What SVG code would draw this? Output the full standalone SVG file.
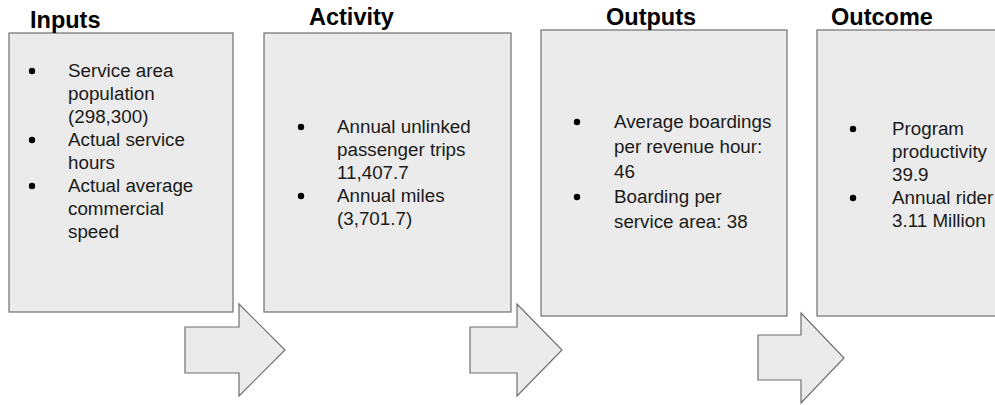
<svg xmlns="http://www.w3.org/2000/svg" width="995" height="405" viewBox="0 0 995 405">
<style>
.box{fill:#ebebeb;stroke:#6f6f6f;stroke-width:1.2}
.arrow{fill:#ebebeb;stroke:#6f6f6f;stroke-width:1.2;stroke-linejoin:miter}
.title{font-family:"Liberation Sans",Arial,Helvetica,sans-serif;font-weight:bold;font-size:23.5px;fill:#000}
.body{font-family:"Liberation Sans",Arial,Helvetica,sans-serif;font-size:18.8px;fill:#1a1a1a}
.dot{fill:#000}
</style>
<rect width="995" height="405" fill="#ffffff"/>
<g id="inputs">
<rect class="box" x="9" y="33" width="224" height="279"/>
<text class="title" x="30" y="28">Inputs</text>
<circle class="dot" cx="32" cy="71" r="3.2"/>
<circle class="dot" cx="32" cy="140" r="3.2"/>
<circle class="dot" cx="32" cy="186" r="3.2"/>
<text class="body" x="68" y="77">Service area</text>
<text class="body" x="68" y="100">population</text>
<text class="body" x="68" y="123">(298,300)</text>
<text class="body" x="68" y="146">Actual service</text>
<text class="body" x="68" y="169">hours</text>
<text class="body" x="68" y="192">Actual average</text>
<text class="body" x="68" y="215">commercial</text>
<text class="body" x="68" y="238">speed</text>
</g>
<g id="activity">
<rect class="box" x="264" y="33" width="247" height="279"/>
<text class="title" x="309" y="25">Activity</text>
<circle class="dot" cx="301" cy="127" r="3.2"/>
<circle class="dot" cx="301" cy="196" r="3.2"/>
<text class="body" x="337" y="133">Annual unlinked</text>
<text class="body" x="337" y="156">passenger trips</text>
<text class="body" x="337" y="179">11,407.7</text>
<text class="body" x="337" y="202">Annual miles</text>
<text class="body" x="337" y="225">(3,701.7)</text>
</g>
<g id="outputs">
<rect class="box" x="541" y="30" width="246" height="286"/>
<text class="title" x="606" y="25">Outputs</text>
<circle class="dot" cx="577" cy="122" r="3.2"/>
<circle class="dot" cx="577" cy="197" r="3.2"/>
<text class="body" x="614" y="128">Average boardings</text>
<text class="body" x="614" y="153">per revenue hour:</text>
<text class="body" x="614" y="178">46</text>
<text class="body" x="614" y="203">Boarding per</text>
<text class="body" x="614" y="228">service area: 38</text>
</g>
<g id="outcome">
<rect class="box" x="817" y="30" width="200" height="286"/>
<text class="title" x="831" y="25">Outcome</text>
<circle class="dot" cx="853" cy="129" r="3.2"/>
<circle class="dot" cx="853" cy="198" r="3.2"/>
<text class="body" x="892" y="135">Program</text>
<text class="body" x="892" y="158">productivity</text>
<text class="body" x="892" y="181">39.9</text>
<text class="body" x="892" y="204">Annual rider</text>
<text class="body" x="892" y="227">3.11 Million</text>
</g>
<g id="connectors">
<polygon class="arrow" points="185,327 239,327 239,304 285,350 239,396 239,373 185,373"/>
<polygon class="arrow" points="470,327 517,327 517,304 562,350 517,396 517,373 470,373"/>
<polygon class="arrow" points="758,335 801,335 801,313 844,358 801,403 801,380 758,380"/>
</g>
</svg>
